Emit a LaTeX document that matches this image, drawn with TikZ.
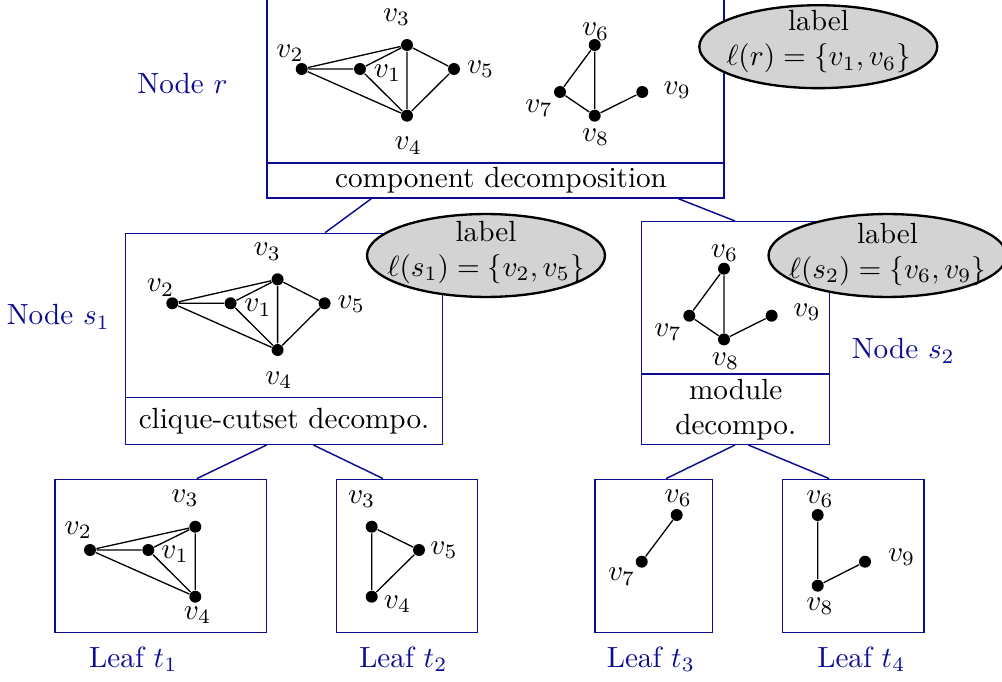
\documentclass[tikz,border=0pt]{standalone}
\usetikzlibrary{fit,calc,shapes.geometric}
\definecolor{mblue}{RGB}{12,12,145}
\definecolor{ellgray}{RGB}{211,211,211}
\tikzset{
  vx/.style={circle,fill=black,inner sep=0pt,minimum size=4.1pt},
  vlab/.style={inner sep=0pt},
  edge/.style={draw=black,line width=0.45pt},
  box/.style={draw=mblue,line width=0.5pt,inner sep=0pt,rectangle},
  sepline/.style={draw=mblue,line width=0.5pt},
  conn/.style={draw=mblue,line width=0.5pt},
  bluetxt/.style={text=mblue,inner sep=0pt},
  plaintxt/.style={inner sep=0pt,align=center},
  lblell/.style={ellipse,draw=black,fill=ellgray,line width=0.8pt,minimum width=81.5pt,minimum height=28.4pt,inner sep=0pt},
}
\begin{document}
\begin{tikzpicture}[x=0.3425pt,y=-0.3425pt]
\useasboundingbox (0,0) rectangle (1002,682);

% ---------- boxes ----------
\node[box,fit={(267,-3)(724,198)}] (r) {};
\draw[sepline] (267,163) -- (724,163);
\node[box,fit={(125.3,233.3)(442.3,444.3)}] (s1) {};
\draw[sepline] (125.3,397.7) -- (442.3,397.7);
\node[box,fit={(641.7,221.7)(829.7,444.3)}] (s2) {};
\draw[sepline] (641.7,374) -- (829.7,374);
\node[box,fit={(55,479.3)(266.7,632.3)}] (t1) {};
\node[box,fit={(336.7,479.3)(477.7,632.3)}] (t2) {};
\node[box,fit={(595,479.3)(712.7,632.3)}] (t3) {};
\node[box,fit={(782.7,479.3)(924,632.3)}] (t4) {};

% ---------- connectors ----------
\draw[conn] ($(r.south west)!0.229!(r.south east)$) -- ($(s1.north west)!0.63!(s1.north east)$);
\draw[conn] ($(r.south west)!0.899!(r.south east)$) -- ($(s2.north west)!0.496!(s2.north east)$);
\draw[conn] ($(s1.south west)!0.446!(s1.south east)$) -- ($(t1.north west)!0.669!(t1.north east)$);
\draw[conn] ($(s1.south west)!0.593!(s1.south east)$) -- ($(t2.north west)!0.33!(t2.north east)$);
\draw[conn] ($(s2.south west)!0.496!(s2.south east)$) -- ($(t3.north west)!0.603!(t3.north east)$);
\draw[conn] ($(s2.south west)!0.567!(s2.south east)$) -- ($(t4.north west)!0.33!(t4.north east)$);

% ---------- box texts ----------
\node[plaintxt] (rtxt) at (501,180.5) {component decomposition};
\node[plaintxt] (s1txt) at (284,421) {clique-cutset decompo.};
\node[plaintxt] (s2txt) at (735.7,410) {module\\decompo.};

\node[bluetxt] (nr) at (182.5,83.3) {Node $r$};
\node[bluetxt] (ns1) at (58.3,316.7) {Node $s_1$};
\node[bluetxt] (ns2) at (903.3,350.8) {Node $s_2$};
\node[bluetxt] (lt1) at (133.3,659) {Leaf $t_1$};
\node[bluetxt] (lt2) at (403.3,659) {Leaf $t_2$};
\node[bluetxt] (lt3) at (650.8,659) {Leaf $t_3$};
\node[bluetxt] (lt4) at (861.3,659) {Leaf $t_4$};

% ---------- graph in r ----------
\node[vx] (r1) at (360,69) {};
\node[vx] (r2) at (301.7,69) {};
\node[vx] (r3) at (407,45) {};
\node[vx] (r4) at (407,115.7) {};
\node[vx] (r5) at (454,69) {};
\node[vx] (r6) at (594.7,45) {};
\node[vx] (r7) at (560,92) {};
\node[vx] (r8) at (594.7,115.7) {};
\node[vx] (r9) at (642.3,92) {};
\draw[edge] (r2) -- (r3) (r2) -- (r1) (r2) -- (r4) (r1) -- (r3) (r1) -- (r4)
  (r3) -- (r4) (r3) -- (r5) (r5) -- (r4)
  (r6) -- (r7) (r6) -- (r8) (r7) -- (r8) (r8) -- (r9);
\node[vlab] (lr1) at (387.5,73.3) {$v_1$};
\node[vlab] (lr2) at (290,53.3) {$v_2$};
\node[vlab] (lr3) at (396.7,17.3) {$v_3$};
\node[vlab] (lr4) at (408.3,145.7) {$v_4$};
\node[vlab] (lr5) at (480.7,69) {$v_5$};
\node[vlab] (lr6) at (595.7,31.7) {$v_6$};
\node[vlab] (lr7) at (539,108.3) {$v_7$};
\node[vlab] (lr8) at (595.7,137.3) {$v_8$};
\node[vlab] (lr9) at (677.3,90) {$v_9$};

% ---------- graph in s1 ----------
\node[vx] (a1) at (230.6,303.3) {};
\node[vx] (a2) at (172.3,303.3) {};
\node[vx] (a3) at (277.6,279.3) {};
\node[vx] (a4) at (277.6,350) {};
\node[vx] (a5) at (324.6,303.3) {};
\draw[edge] (a2) -- (a3) (a2) -- (a1) (a2) -- (a4) (a1) -- (a3) (a1) -- (a4)
  (a3) -- (a4) (a3) -- (a5) (a5) -- (a4);
\node[vlab] (la1) at (258.1,307.6) {$v_1$};
\node[vlab] (la2) at (160.6,287.6) {$v_2$};
\node[vlab] (la3) at (267.3,251.6) {$v_3$};
\node[vlab] (la4) at (278.9,380) {$v_4$};
\node[vlab] (la5) at (351.3,304) {$v_5$};

% ---------- graph in s2 ----------
\node[vx] (b6) at (724,268.7) {};
\node[vx] (b7) at (689.3,315.7) {};
\node[vx] (b8) at (724,339.4) {};
\node[vx] (b9) at (771.6,315.7) {};
\draw[edge] (b6) -- (b7) (b6) -- (b8) (b7) -- (b8) (b8) -- (b9);
\node[vlab] (lb6) at (724.5,253.5) {$v_6$};
\node[vlab] (lb7) at (668,332) {$v_7$};
\node[vlab] (lb8) at (725.5,361.3) {$v_8$};
\node[vlab] (lb9) at (807,312) {$v_9$};

% ---------- leaf t1 ----------
\node[vx] (c1) at (148.3,550) {};
\node[vx] (c2) at (90,550) {};
\node[vx] (c3) at (195.3,526.7) {};
\node[vx] (c4) at (195.3,596.7) {};
\draw[edge] (c2) -- (c3) (c2) -- (c1) (c2) -- (c4) (c1) -- (c3) (c1) -- (c4) (c3) -- (c4);
\node[vlab] (lc1) at (175,554) {$v_1$};
\node[vlab] (lc2) at (78.3,530) {$v_2$};
\node[vlab] (lc3) at (185,498.5) {$v_3$};
\node[vlab] (lc4) at (197.5,615) {$v_4$};

% ---------- leaf t2 ----------
\node[vx] (d3) at (371.7,526.7) {};
\node[vx] (d4) at (371.7,596.7) {};
\node[vx] (d5) at (419,550) {};
\draw[edge] (d3) -- (d4) (d3) -- (d5) (d5) -- (d4);
\node[vlab] (ld3) at (361.7,499) {$v_3$};
\node[vlab] (ld4) at (397.5,604) {$v_4$};
\node[vlab] (ld5) at (444,550) {$v_5$};

% ---------- leaf t3 ----------
\node[vx] (e6) at (676.7,515) {};
\node[vx] (e7) at (641.7,561.7) {};
\draw[edge] (e6) -- (e7);
\node[vlab] (le6) at (678.3,498.3) {$v_6$};
\node[vlab] (le7) at (621.7,576.7) {$v_7$};

% ---------- leaf t4 ----------
\node[vx] (f6) at (817.7,515) {};
\node[vx] (f8) at (817.7,585.7) {};
\node[vx] (f9) at (865,561.7) {};
\draw[edge] (f6) -- (f8) (f8) -- (f9);
\node[vlab] (lf6) at (820,499) {$v_6$};
\node[vlab] (lf8) at (820,606) {$v_8$};
\node[vlab] (lf9) at (901.7,557.5) {$v_9$};

% ---------- label ellipses ----------
\node[lblell] (er) at (818.3,46.7) {};
\node[plaintxt] (ert) at (818.5,41.7) {label\\$\ell(r)=\{v_1,v_6\}$};
\node[lblell] (es1) at (486,255.5) {};
\node[plaintxt] (es1t) at (486,252.5) {label\\$\ell(s_1)=\{v_2,v_5\}$};
\node[lblell] (es2) at (887.5,255.5) {};
\node[plaintxt] (es2t) at (887.5,254.2) {label\\$\ell(s_2)=\{v_6,v_9\}$};
\end{tikzpicture}
\end{document}
